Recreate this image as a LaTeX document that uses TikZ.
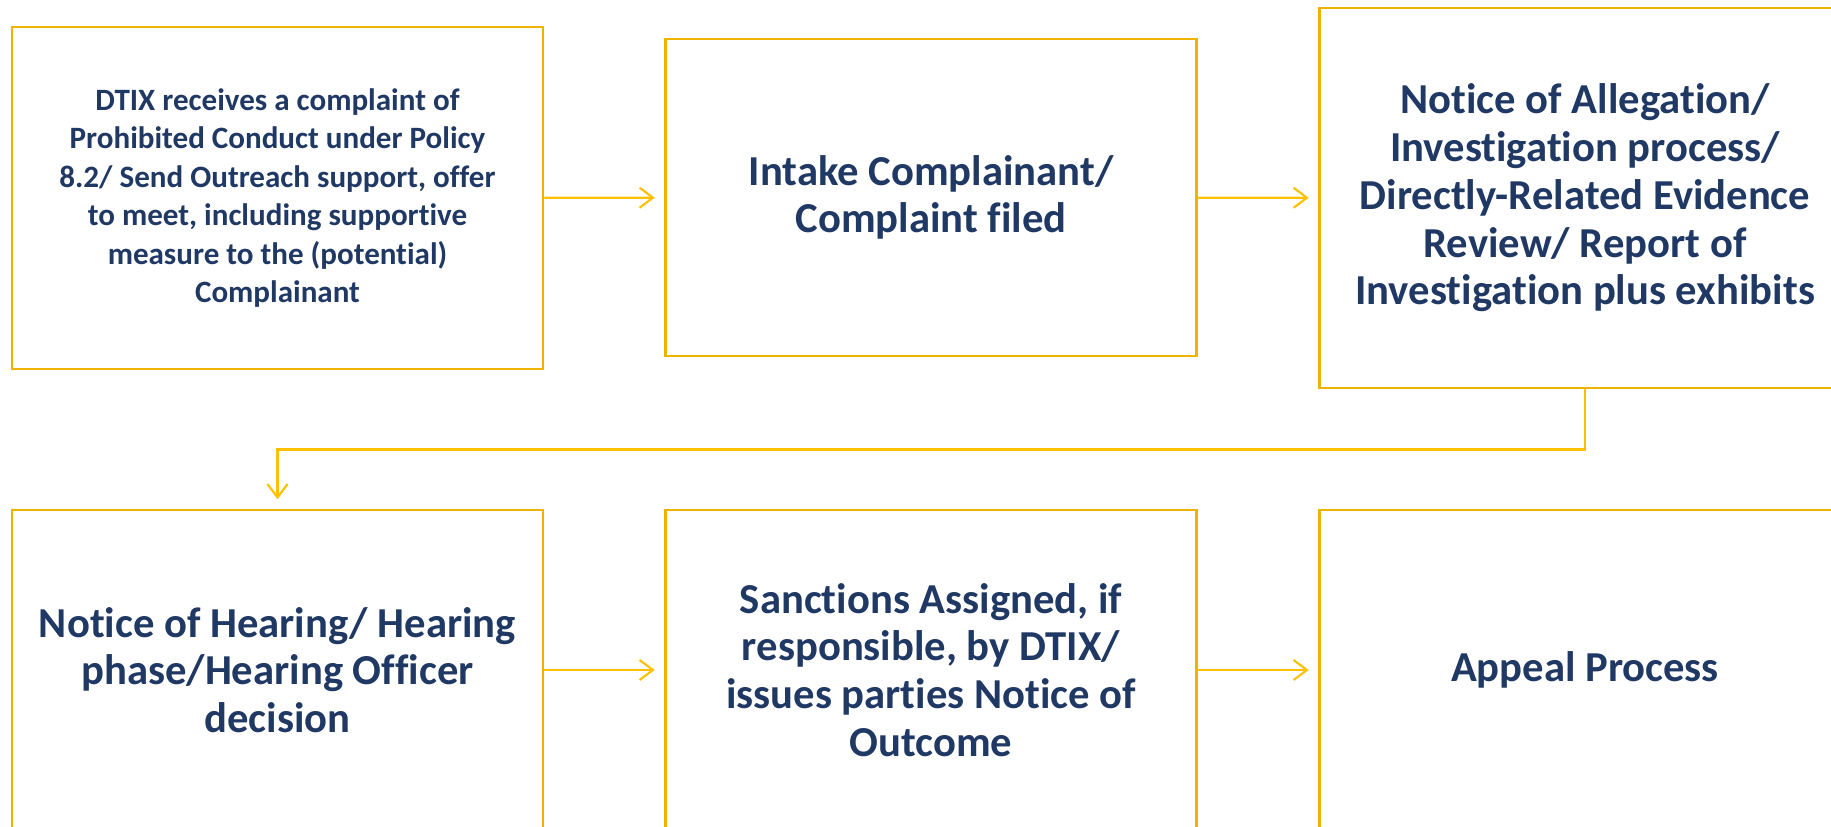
\documentclass[tikz,border=0pt]{standalone}
\usepackage{fontspec}
\setmainfont{Carlito}[Ligatures=NoCommon]
\usetikzlibrary{arrows.meta}
\definecolor{orbord}{HTML}{EDB300}
\definecolor{orfleche}{HTML}{FFC000}
\definecolor{bleu}{HTML}{1F3864}
\begin{document}
\begin{tikzpicture}[x=0.75pt,y=-0.75pt,
		boite/.style={draw=orbord,line width=2.2pt,minimum width=398.25pt,align=center,text=bleu,
			font=\fontsize{32}{35.8}\selectfont\bfseries},
		fleche/.style={-{Straight Barb[length=10pt,width=15pt]},line width=1.6pt,draw=orfleche,shorten >=7pt}]
		\useasboundingbox (0,0) rectangle (1831,827);
		\clip (0,0) rectangle (1831,827);
		% Boîtes
		\node [boite,minimum height=256.5pt,font=\fontsize{23.3}{28.8}\selectfont\bfseries] (n1) at (277.5,198)
			{DTIX receives a complaint of\\Prohibited Conduct under Policy\\8.2/ Send Outreach support, offer\\to meet, including supportive\\measure to the (potential)\\Complainant};
		\node [boite,minimum height=237.75pt] (n2) at (931,197.5) {Intake Complainant/\\Complaint filed};
		\node [boite,minimum height=285pt] (n3) at (1585,198)
			{Notice of Allegation/\\Investigation process/\\Directly-Related Evidence\\Review/ Report of\\Investigation plus exhibits};
		\node [boite,minimum height=240pt] (n4) at (277.5,670) {Notice of Hearing/ Hearing\\phase/Hearing Officer\\decision};
		\node [boite,minimum height=240pt] (n5) at (931,670)
			{Sanctions Assigned, if\\responsible, by DTIX/\\issues parties Notice of\\Outcome};
		\node [boite,minimum height=240pt] (n6) at (1585,670) {Appeal Process};
		% Flèches
		\draw [fleche] (n1) -- (n2);
		\draw [fleche] (n2) -- (n3);
		\draw [fleche] (n3.south) -- ++(0,60) -| (n4.north);
		\draw [fleche] (n4) -- (n5);
		\draw [fleche] (n5) -- (n6);
\end{tikzpicture}
\end{document}
